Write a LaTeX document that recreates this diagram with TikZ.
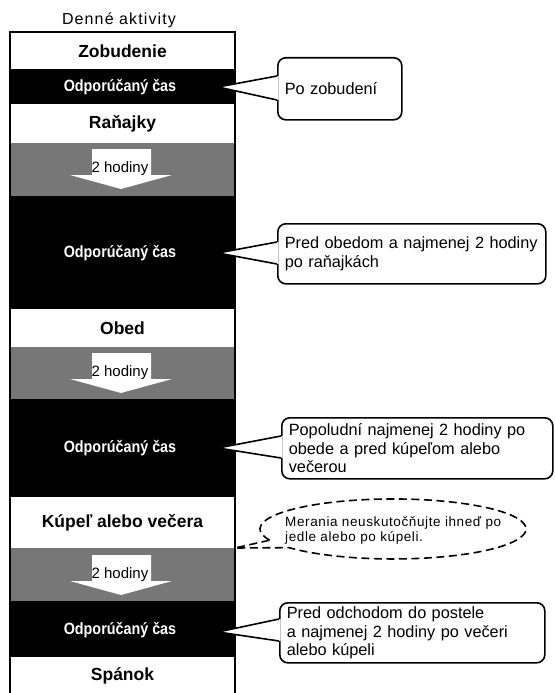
\documentclass[tikz,border=0pt]{standalone}
\usepackage{fontspec}
\setmainfont{Liberation Sans}
\usepackage{graphicx}
\definecolor{bandgray}{RGB}{119,119,119}
\begin{document}
\begin{tikzpicture}[x=1pt,y=-1pt,
  lbl/.style={font=\bfseries\fontsize{17.5}{20}\selectfont, inner sep=0pt},
  reclbl/.style={text=white, inner sep=0pt},
  hodtxt/.style={font=\fontsize{15}{17}\selectfont, inner sep=0pt},
  callout/.style={draw, line width=1.6pt, fill=white, rounded corners=8pt,
    anchor=north west, inner xsep=7pt, inner ysep=0pt, align=left,
    font=\fontsize{16.3}{18.7}\selectfont},
  wedge/.style={line width=1.6pt, line join=miter},
  pics/hodarrow/.style={code={
    \fill[white] (-29,6) -- (30,6) -- (30,32) -- (51,32) -- (0,46)
      -- (-51,32) -- (-29,32) -- cycle;
    \node[hodtxt, anchor=base] (-t) at (-1,29) {2 hodiny};
  }}]
\useasboundingbox (0,0) rectangle (554,693);

% bands
\fill[black] (10,69) rectangle (235,104);
\fill[bandgray] (10,143) rectangle (235,196);
\fill[black] (10,196) rectangle (235,309);
\fill[bandgray] (10,347) rectangle (235,399);
\fill[black] (10,399) rectangle (235,497);
\fill[bandgray] (10,548) rectangle (235,601);
\fill[black] (10,601) rectangle (235,657);

% column border
\draw[line width=1.6pt] (10,700) -- (10,32) -- (235,32) -- (235,700);

% title
\node[anchor=base, inner sep=0pt] (title) at (119,25)
  {\fontsize{16}{18}\selectfont\addfontfeature{LetterSpace=7}Denné aktivity};

% labels
\node[lbl] (zob) at (122.5,51) {Zobudenie};
\node[lbl] (ran) at (122.5,124) {Raňajky};
\node[lbl] (obed) at (122.5,328) {Obed};
\node[lbl] (kup) at (122.5,523) {Kúpeľ alebo večera};
\node[lbl] (span) at (122.5,676) {Spánok};

\node[reclbl] (r1) at (120,87) {\scalebox{0.88}[1]{\bfseries\fontsize{16.3}{19}\selectfont Odporúčaný čas}};
\node[reclbl] (r2) at (120,253) {\scalebox{0.88}[1]{\bfseries\fontsize{16.3}{19}\selectfont Odporúčaný čas}};
\node[reclbl] (r3) at (120,448) {\scalebox{0.88}[1]{\bfseries\fontsize{16.3}{19}\selectfont Odporúčaný čas}};
\node[reclbl] (r4) at (120,630) {\scalebox{0.88}[1]{\bfseries\fontsize{16.3}{19}\selectfont Odporúčaný čas}};

% arrows
\pic (a1) at (121,143) {hodarrow};
\pic (a2) at (121,347) {hodarrow};
\pic (a3) at (121,549) {hodarrow};

% callouts
\node[callout, minimum width=124pt, minimum height=62pt, text width=110pt] (c1) at (277,57) {Po zobudení};
\node[callout, minimum width=268pt, minimum height=60pt, text width=254pt] (c2) at (277,223) {Pred obedom a najmenej 2 hodiny\\po raňajkách};
\node[callout, minimum width=271pt, minimum height=61pt, text width=257pt] (c3) at (281,417) {Popoludní najmenej 2 hodiny po\\obede a pred kúpeľom alebo\\večerou};
\node[callout, minimum width=265pt, minimum height=60pt, text width=251pt] (c4) at (279,602) {Pred odchodom do postele\\a najmenej 2 hodiny po večeri\\alebo kúpeli};

% wedge tips
\coordinate (t1) at (218,87);
\coordinate (t2) at (218,253);
\coordinate (t3) at (218,448);
\coordinate (t4) at (218,632);

\fill[white] (t1) -- ([xshift=1.5pt]c1.west |- 0,76) -- ([xshift=1.5pt]c1.west |- 0,100) -- cycle;
\draw[wedge] (c1.west |- 0,76) -- (t1) -- (c1.west |- 0,100);
\fill[white] (t2) -- ([xshift=1.5pt]c2.west |- 0,242) -- ([xshift=1.5pt]c2.west |- 0,264) -- cycle;
\draw[wedge] (c2.west |- 0,242) -- (t2) -- (c2.west |- 0,264);
\fill[white] (t3) -- ([xshift=1.5pt]c3.west |- 0,436) -- ([xshift=1.5pt]c3.west |- 0,458) -- cycle;
\draw[wedge] (c3.west |- 0,436) -- (t3) -- (c3.west |- 0,458);
\fill[white] (t4) -- ([xshift=1.5pt]c4.west |- 0,619) -- ([xshift=1.5pt]c4.west |- 0,641) -- cycle;
\draw[wedge] (c4.west |- 0,619) -- (t4) -- (c4.west |- 0,641);

% dashed ellipse callout
\coordinate (et) at (235,548);
\draw[line width=1.6pt, dash pattern=on 8pt off 4.5pt, fill=white]
  (269.7,540.2) arc[start angle=158, end angle=501.5, x radius=133, y radius=30]
  -- (et) -- cycle;
\node[anchor=west, align=left, inner sep=0pt,
  font=\fontsize{13.5}{15}\selectfont\addfontfeature{LetterSpace=4.5}] (etxt) at (285,530.5)
  {Merania neuskutočňujte ihneď po\\jedle alebo po kúpeli.};
\end{tikzpicture}
\end{document}
